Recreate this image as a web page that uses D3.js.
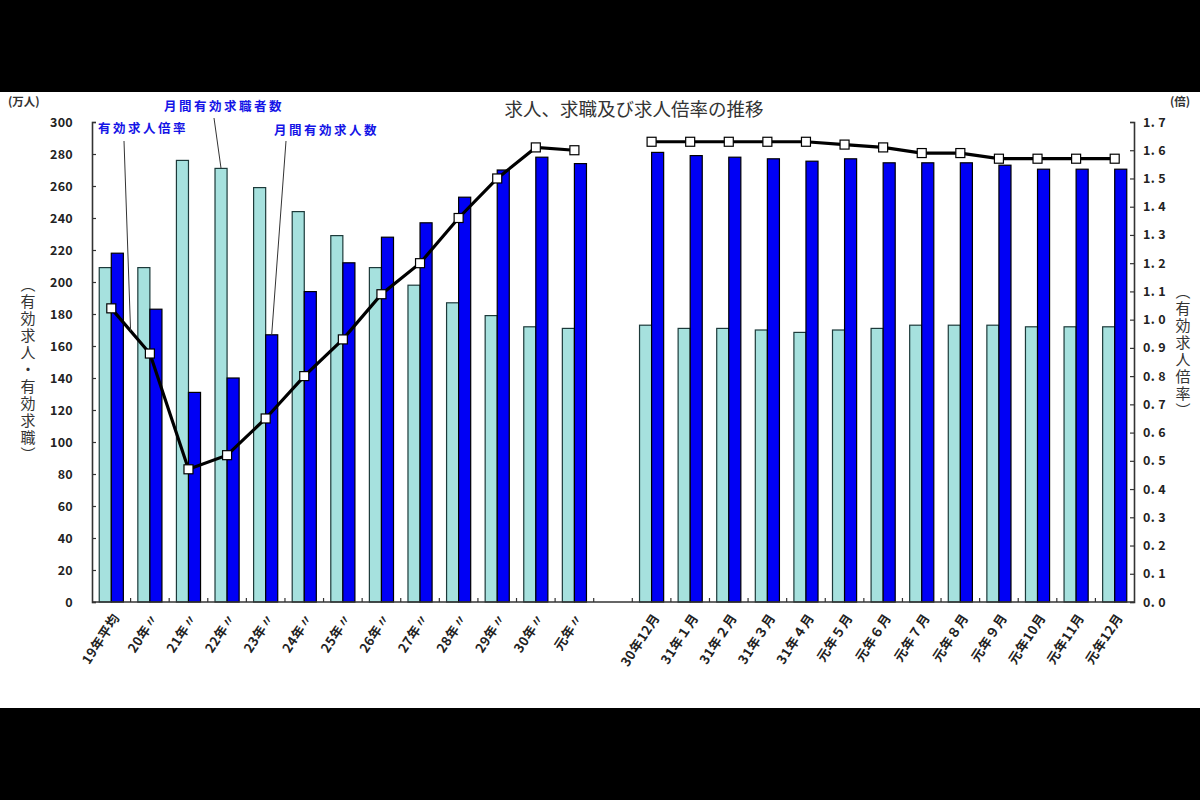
<!DOCTYPE html>
<html>
<head>
<meta charset="utf-8">
<script src="https://cdn.jsdelivr.net/npm/d3@7"></script>
<style>
  body { margin: 0; background: #000; }
  svg { display: block; }
</style>
</head>
<body>
<div class="chart"></div>
<script>
// annual averages, then an empty slot, then monthly values
let annualLabels = ["19年平均", "20年〃", "21年〃", "22年〃", "23年〃", "24年〃", "25年〃", "26年〃", "27年〃", "28年〃", "29年〃", "30年〃", "元年〃"];
let monthLabels = ["30年12月", "31年１月", "31年２月", "31年３月", "31年４月", "元年５月", "元年６月", "元年７月", "元年８月", "元年９月", "元年10月", "元年11月", "元年12月"];

// 月間有効求職者数 (万人)
let seekersAnnual = [209, 209, 276, 271, 259, 244, 229, 209, 198, 187, 179, 172, 171];
let seekersMonth = [173, 171, 171, 170, 168.5, 170, 171, 173, 173, 173, 172, 172, 172];

// 月間有効求人数 (万人)
let openingsAnnual = [218, 183, 131, 140, 167, 194, 212, 228, 237, 253, 270, 278, 274];
let openingsMonth = [281, 279, 278, 277, 275.5, 277, 274.5, 274.5, 274.5, 273, 270.5, 270.5, 270.5];

// 有効求人倍率 (倍)
let ratioAnnual = [1.04, 0.88, 0.47, 0.52, 0.65, 0.80, 0.93, 1.09, 1.20, 1.36, 1.50, 1.61, 1.60];
let ratioMonth = [1.63, 1.63, 1.63, 1.63, 1.63, 1.62, 1.61, 1.59, 1.59, 1.57, 1.57, 1.57, 1.57];

let leftTicks = d3.range(0, 301, 20);
let rightTicks = d3.range(0, 18).map(function (i) { return i / 10; });

let width = 1200;
let height = 800;
let plot = { left: 92, right: 1134, top: 122, bottom: 602 };
let font = "'Noto Sans CJK JP', 'Noto Sans', sans-serif";

let gapKey = "gap";
let keys = annualLabels.concat([gapKey], monthLabels);

let rows = annualLabels.map(function (d, i) {
    return { key: d, seekers: seekersAnnual[i], openings: openingsAnnual[i], ratio: ratioAnnual[i] };
});
let monthRows = monthLabels.map(function (d, i) {
    return { key: d, seekers: seekersMonth[i], openings: openingsMonth[i], ratio: ratioMonth[i] };
});
let allRows = rows.concat(monthRows);

let svg = d3
    .select(".chart")
    .append("svg")
    .attr("width", width)
    .attr("height", height);

svg.append("rect")
    .attr("width", width)
    .attr("height", height)
    .attr("fill", "#000");

svg.append("rect")
    .attr("x", 0)
    .attr("y", 92)
    .attr("width", width)
    .attr("height", 616)
    .attr("fill", "#fff");

let x = d3
    .scaleBand()
    .domain(keys)
    .range([plot.left, plot.right])
    .padding(0);

let x1 = d3
    .scaleBand()
    .domain(["seekers", "openings"])
    .range([0, x.bandwidth()])
    .paddingInner(0)
    .paddingOuter(0.6);

let y = d3
    .scaleLinear()
    .domain([0, 300])
    .range([plot.bottom, plot.top]);

let yR = d3
    .scaleLinear()
    .domain([0, 1.7])
    .range([plot.bottom, plot.top]);

let colors = { seekers: "#a6e1de", openings: "#0000f5" };
let strokes = { seekers: "#1d3a3a", openings: "#000" };

// bars
let groups = svg.append("g")
    .selectAll("g")
    .data(allRows)
    .enter()
    .append("g")
    .attr("transform", function (d) {
        return "translate(" + x(d.key) + ",0)";
    });

groups.selectAll("rect")
    .data(function (d) {
        return ["seekers", "openings"].map(function (k) {
            return { k: k, v: d[k] };
        });
    })
    .enter()
    .append("rect")
    .attr("x", function (d) { return x1(d.k); })
    .attr("y", function (d) { return y(d.v); })
    .attr("width", x1.bandwidth())
    .attr("height", function (d) { return y(0) - y(d.v); })
    .attr("fill", function (d) { return colors[d.k]; })
    .attr("stroke", function (d) { return strokes[d.k]; })
    .attr("stroke-width", 1.2);

// left axis
let leftAxis = svg.append("g")
    .attr("transform", "translate(" + plot.left + ",0)")
    .call(d3.axisLeft(y).tickValues(leftTicks).tickSize(-4).tickPadding(19).tickFormat(d3.format("d")));

// right axis
let rightAxis = svg.append("g")
    .attr("transform", "translate(" + plot.right + ",0)")
    .call(d3.axisRight(yR).tickValues(rightTicks).tickSize(-4).tickPadding(9)
        .tickFormat(function (d) { return d3.format(".1f")(d).replace(".", ". "); }));

[leftAxis, rightAxis].forEach(function (a) {
    a.select(".domain").attr("stroke", "#333").attr("stroke-width", 1.6);
    a.selectAll(".tick line").attr("stroke", "#333").attr("stroke-width", 1.2);
    a.selectAll(".tick text")
        .style("font-family", font)
        .style("font-size", "12.5px")
        .style("font-weight", "bold")
        .style("letter-spacing", "0.3px")
        .attr("fill", "#222");
});

// x axis line and boundary ticks
svg.append("line")
    .attr("x1", plot.left)
    .attr("x2", plot.right)
    .attr("y1", y(0))
    .attr("y2", y(0))
    .attr("stroke", "#333")
    .attr("stroke-width", 1.6);

svg.append("g")
    .selectAll("line")
    .data(keys.slice(1))
    .enter()
    .append("line")
    .attr("x1", function (d) { return x(d); })
    .attr("x2", function (d) { return x(d); })
    .attr("y1", y(0))
    .attr("y2", y(0) - 4)
    .attr("stroke", "#333")
    .attr("stroke-width", 1.2);

svg.append("g")
    .selectAll("text")
    .data(keys.filter(function (d) { return d !== gapKey; }))
    .enter()
    .append("text")
    .attr("transform", function (d) {
        return "translate(" + (x(d) + x.bandwidth() / 2 + 5) + "," + (y(0) + 13) + ") rotate(-57)";
    })
    .attr("text-anchor", "end")
    .attr("dy", "0.35em")
    .style("font-family", font)
    .style("font-size", "13px")
    .style("font-weight", "bold")
    .style("letter-spacing", "0.5px")
    .attr("fill", "#222")
    .text(function (d) { return d; });

// ratio line, broken at the gap
let line = d3.line()
    .x(function (d) { return x(d.key) + x.bandwidth() / 2; })
    .y(function (d) { return yR(d.ratio); });

[rows, monthRows].forEach(function (set) {
    svg.append("path")
        .datum(set)
        .attr("d", line)
        .attr("fill", "none")
        .attr("stroke", "#000")
        .attr("stroke-width", 3.2);

    svg.append("g")
        .selectAll("rect")
        .data(set)
        .enter()
        .append("rect")
        .attr("x", function (d) { return x(d.key) + x.bandwidth() / 2 - 4.5; })
        .attr("y", function (d) { return yR(d.ratio) - 4.5; })
        .attr("width", 9)
        .attr("height", 9)
        .attr("fill", "#fff")
        .attr("stroke", "#000")
        .attr("stroke-width", 1.2);
});

// title
svg.append("text")
    .attr("x", 634)
    .attr("y", 116)
    .attr("text-anchor", "middle")
    .style("font-family", font)
    .style("font-size", "18.5px")
    .attr("fill", "#333")
    .text("求人、求職及び求人倍率の推移");

// units
svg.append("text")
    .attr("x", 8)
    .attr("y", 106)
    .style("font-family", font)
    .style("font-size", "11.5px")
    .style("font-weight", "bold")
    .attr("fill", "#333")
    .text("(万人)");

svg.append("text")
    .attr("x", 1170)
    .attr("y", 106)
    .style("font-family", font)
    .style("font-size", "11.5px")
    .style("font-weight", "bold")
    .attr("fill", "#333")
    .text("(倍)");

// vertical axis titles
svg.append("text")
    .attr("x", 28)
    .attr("y", 370)
    .attr("text-anchor", "middle")
    .style("writing-mode", "vertical-rl")
    .style("font-family", font)
    .style("font-size", "15px")
    .style("letter-spacing", "2px")
    .attr("fill", "#333")
    .text("（有効求人・有効求職）");

svg.append("text")
    .attr("x", 1183)
    .attr("y", 352)
    .attr("text-anchor", "middle")
    .style("writing-mode", "vertical-rl")
    .style("font-family", font)
    .style("font-size", "15px")
    .style("letter-spacing", "2px")
    .attr("fill", "#333")
    .text("（有効求人倍率）");

// callouts
let xc = function (i) { return x(keys[i]) + x.bandwidth() / 2; };
let callouts = [
    { text: "有効求人倍率", tx: 98, ty: 133, x0: 124, y0: 141,
      x1: (xc(0) + xc(1)) / 2, y1: yR((ratioAnnual[0] + ratioAnnual[1]) / 2) },
    { text: "月間有効求職者数", tx: 164, ty: 111, x0: 214, y0: 118,
      x1: x(keys[3]) + x1("seekers") + x1.bandwidth() / 2, y1: y(seekersAnnual[3]) },
    { text: "月間有効求人数", tx: 274, ty: 135, x0: 286, y0: 141,
      x1: x(keys[4]) + x1("openings") + x1.bandwidth() / 2, y1: y(openingsAnnual[4]) }
];

svg.append("g")
    .selectAll("line")
    .data(callouts)
    .enter()
    .append("line")
    .attr("x1", function (d) { return d.x0; })
    .attr("y1", function (d) { return d.y0; })
    .attr("x2", function (d) { return d.x1; })
    .attr("y2", function (d) { return d.y1; })
    .attr("stroke", "#333")
    .attr("stroke-width", 1);

svg.append("g")
    .selectAll("text")
    .data(callouts)
    .enter()
    .append("text")
    .attr("x", function (d) { return d.tx; })
    .attr("y", function (d) { return d.ty; })
    .style("font-family", font)
    .style("font-size", "12.5px")
    .style("font-weight", "bold")
    .style("letter-spacing", "2.5px")
    .attr("fill", "#1414e6")
    .text(function (d) { return d.text; });
</script>
</body>
</html>
